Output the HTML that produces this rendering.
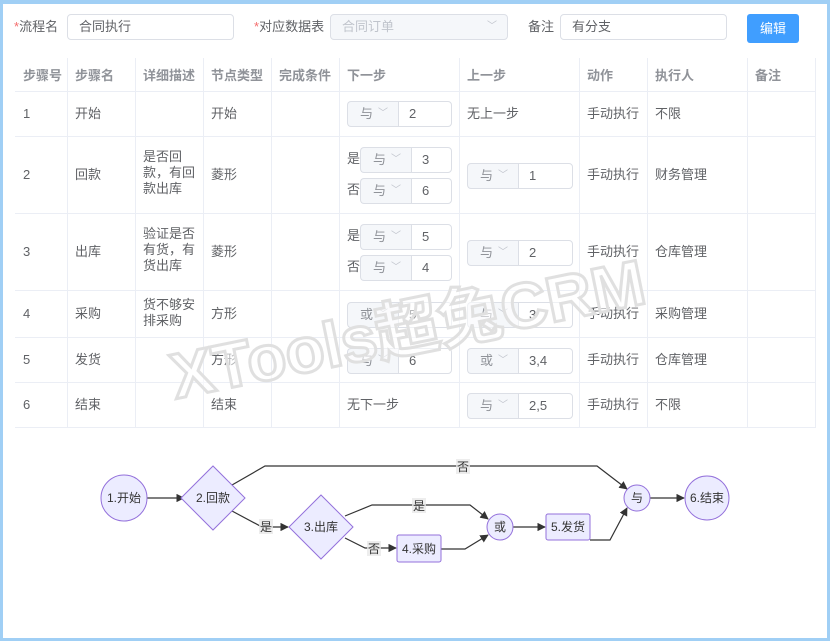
<!DOCTYPE html>
<html><head><meta charset="utf-8">
<style>
*{box-sizing:border-box;margin:0;padding:0}
body{width:830px;height:641px;overflow:hidden;background:#fff;font-family:"Liberation Sans","Noto Sans CJK SC",sans-serif;font-size:13px;color:#606266;position:relative}
.frame{position:absolute;left:0;top:0;width:830px;height:641px;border:3px solid #a0cff5;border-top-width:4px}
.a{position:absolute;white-space:nowrap;line-height:18px}
.inp{position:absolute;border:1px solid #dcdfe6;border-radius:4px;background:#fff;height:26px;line-height:24px;padding-left:11px}
.sel{position:absolute;border:1px solid #dcdfe6;border-right:none;border-radius:4px 0 0 4px;background:#f5f7fa;height:26px;line-height:24px;padding-left:12px;color:#909399}
.sel i{position:absolute;right:10px;top:0;font-style:normal;color:#c0c4cc;font-size:10px}
.num{position:absolute;border:1px solid #dcdfe6;border-radius:0 4px 4px 0;background:#fff;height:26px;line-height:24px;padding-left:10px;color:#606266}
.hl{position:absolute;left:15px;width:800px;height:1px;background:#ebeef5}
.vl{position:absolute;top:58px;height:370px;width:1px;background:#ebeef5}
.th{position:absolute;top:67px;font-weight:bold;color:#909399;line-height:18px}
.wm{position:absolute;left:165px;top:346px;font-size:64px;font-weight:bold;color:rgba(255,255,255,0.55);-webkit-text-stroke:3px #e0e0e0;transform:rotate(-11.5deg);transform-origin:left top;white-space:nowrap;line-height:64px;font-family:"Liberation Sans","Noto Sans CJK SC",sans-serif}
</style></head><body>
<div class="frame"></div>
<div class="a" style="left:14px;top:18px"><span style="color:#f56c6c">*</span>流程名</div>
<div class="inp" style="left:67px;top:14px;width:167px">合同执行</div>
<div class="a" style="left:254px;top:18px"><span style="color:#f56c6c">*</span>对应数据表</div>
<div class="inp" style="left:330px;top:14px;width:178px;background:#f5f7fa;color:#c0c4cc">合同订单<span style="position:absolute;right:10px;font-size:10px">﹀</span></div>
<div class="a" style="left:528px;top:18px">备注</div>
<div class="inp" style="left:560px;top:14px;width:167px">有分支</div>
<div class="a" style="left:747px;top:14px;width:52px;height:29px;background:#409eff;border-radius:3px;color:#fff;text-align:center;line-height:29px">编辑</div>

<div class="hl" style="top:91px"></div><div class="hl" style="top:136px"></div><div class="hl" style="top:213px"></div><div class="hl" style="top:290px"></div><div class="hl" style="top:337px"></div><div class="hl" style="top:382px"></div><div class="hl" style="top:427px"></div>
<div class="vl" style="left:67px"></div><div class="vl" style="left:135px"></div><div class="vl" style="left:203px"></div><div class="vl" style="left:271px"></div><div class="vl" style="left:339px"></div><div class="vl" style="left:459px"></div><div class="vl" style="left:579px"></div><div class="vl" style="left:647px"></div><div class="vl" style="left:747px"></div><div class="vl" style="left:815px"></div>
<div class="th" style="left:23px">步骤号</div><div class="th" style="left:75px">步骤名</div><div class="th" style="left:143px">详细描述</div><div class="th" style="left:211px">节点类型</div><div class="th" style="left:279px">完成条件</div><div class="th" style="left:347px">下一步</div><div class="th" style="left:467px">上一步</div><div class="th" style="left:587px">动作</div><div class="th" style="left:655px">执行人</div><div class="th" style="left:755px">备注</div>

<div class="a" style="left:23px;top:105px">1</div><div class="a" style="left:75px;top:105px">开始</div><div class="a" style="left:211px;top:105px">开始</div>
<div class="sel" style="left:347px;top:101px;width:51px">与<i>﹀</i></div><div class="num" style="left:398px;top:101px;width:54px">2</div>
<div class="a" style="left:467px;top:105px">无上一步</div><div class="a" style="left:587px;top:105px">手动执行</div><div class="a" style="left:655px;top:105px">不限</div>

<div class="a" style="left:23px;top:166px">2</div><div class="a" style="left:75px;top:166px">回款</div>
<div class="a" style="left:143px;top:149px;line-height:16px;white-space:normal;width:55px">是否回款，有回款出库</div>
<div class="a" style="left:211px;top:166px">菱形</div>
<div class="a" style="left:347px;top:150px">是</div><div class="sel" style="left:360px;top:147px;width:51px">与<i>﹀</i></div><div class="num" style="left:411px;top:147px;width:41px">3</div>
<div class="a" style="left:347px;top:181px">否</div><div class="sel" style="left:360px;top:178px;width:51px">与<i>﹀</i></div><div class="num" style="left:411px;top:178px;width:41px">6</div>
<div class="sel" style="left:467px;top:163px;width:51px">与<i>﹀</i></div><div class="num" style="left:518px;top:163px;width:55px">1</div>
<div class="a" style="left:587px;top:166px">手动执行</div><div class="a" style="left:655px;top:166px">财务管理</div>

<div class="a" style="left:23px;top:243px">3</div><div class="a" style="left:75px;top:243px">出库</div>
<div class="a" style="left:143px;top:226px;line-height:16px;white-space:normal;width:55px">验证是否有货，有货出库</div>
<div class="a" style="left:211px;top:243px">菱形</div>
<div class="a" style="left:347px;top:227px">是</div><div class="sel" style="left:360px;top:224px;width:51px">与<i>﹀</i></div><div class="num" style="left:411px;top:224px;width:41px">5</div>
<div class="a" style="left:347px;top:258px">否</div><div class="sel" style="left:360px;top:255px;width:51px">与<i>﹀</i></div><div class="num" style="left:411px;top:255px;width:41px">4</div>
<div class="sel" style="left:467px;top:240px;width:51px">与<i>﹀</i></div><div class="num" style="left:518px;top:240px;width:55px">2</div>
<div class="a" style="left:587px;top:243px">手动执行</div><div class="a" style="left:655px;top:243px">仓库管理</div>

<div class="a" style="left:23px;top:305px">4</div><div class="a" style="left:75px;top:305px">采购</div>
<div class="a" style="left:143px;top:297px;line-height:16px;white-space:normal;width:55px">货不够安排采购</div>
<div class="a" style="left:211px;top:305px">方形</div>
<div class="sel" style="left:347px;top:302px;width:51px">或<i>﹀</i></div><div class="num" style="left:398px;top:302px;width:54px">5</div>
<div class="sel" style="left:467px;top:302px;width:51px">与<i>﹀</i></div><div class="num" style="left:518px;top:302px;width:55px">3</div>
<div class="a" style="left:587px;top:305px">手动执行</div><div class="a" style="left:655px;top:305px">采购管理</div>

<div class="a" style="left:23px;top:351px">5</div><div class="a" style="left:75px;top:351px">发货</div><div class="a" style="left:211px;top:351px">方形</div>
<div class="sel" style="left:347px;top:348px;width:51px">与<i>﹀</i></div><div class="num" style="left:398px;top:348px;width:54px">6</div>
<div class="sel" style="left:467px;top:348px;width:51px">或<i>﹀</i></div><div class="num" style="left:518px;top:348px;width:55px">3,4</div>
<div class="a" style="left:587px;top:351px">手动执行</div><div class="a" style="left:655px;top:351px">仓库管理</div>

<div class="a" style="left:23px;top:396px">6</div><div class="a" style="left:75px;top:396px">结束</div><div class="a" style="left:211px;top:396px">结束</div>
<div class="a" style="left:347px;top:396px">无下一步</div>
<div class="sel" style="left:467px;top:393px;width:51px">与<i>﹀</i></div><div class="num" style="left:518px;top:393px;width:55px">2,5</div>
<div class="a" style="left:587px;top:396px">手动执行</div><div class="a" style="left:655px;top:396px">不限</div>

<div class="wm">XTools超兔CRM</div>

<svg style="position:absolute;left:0;top:0" width="830" height="641" font-family="Liberation Sans,Noto Sans CJK SC,sans-serif" font-size="12">
<defs><marker id="ar" viewBox="0 0 10 10" refX="9" refY="5" markerWidth="7" markerHeight="7" orient="auto"><path d="M0,0L10,5L0,10z" fill="#333"/></marker></defs>
<g stroke="#333" stroke-width="1.2" fill="none">
<path d="M147,498H184" marker-end="url(#ar)"/>
<path d="M232,485L265,466H597L627,489" marker-end="url(#ar)"/>
<path d="M232,511L262,527H288" marker-end="url(#ar)"/>
<path d="M345,516L372,505H470L488,519" marker-end="url(#ar)"/>
<path d="M345,538L365,548H396" marker-end="url(#ar)"/>
<path d="M441,549H465L488,535" marker-end="url(#ar)"/>
<path d="M513,527H545" marker-end="url(#ar)"/>
<path d="M590,540H610L627,508" marker-end="url(#ar)"/>
<path d="M650,498H684" marker-end="url(#ar)"/>
</g>
<g fill="#ececff" stroke="#9370db" stroke-width="1">
<circle cx="124" cy="498" r="23"/>
<path d="M213,466L245,498L213,530L181,498z"/>
<path d="M321,495L353,527L321,559L289,527z"/>
<rect x="397" y="535" width="44" height="27" rx="2"/>
<circle cx="500" cy="527" r="13"/>
<rect x="546" y="514" width="44" height="26" rx="2"/>
<circle cx="637" cy="498" r="13"/>
<circle cx="707" cy="498" r="22"/>
</g>
<g fill="#333" text-anchor="middle">
<text x="124" y="502">1.开始</text><text x="213" y="502">2.回款</text><text x="321" y="531">3.出库</text>
<text x="419" y="553">4.采购</text><text x="500" y="531">或</text><text x="568" y="531">5.发货</text>
<text x="637" y="502">与</text><text x="707" y="502">6.结束</text>
</g>
<g text-anchor="middle" fill="#333">
<rect x="456" y="459" width="14" height="15" fill="#e8e8e8" opacity="0.8"/><text x="463" y="471">否</text>
<rect x="259" y="519" width="14" height="15" fill="#e8e8e8" opacity="0.8"/><text x="266" y="531">是</text>
<rect x="412" y="498" width="14" height="15" fill="#e8e8e8" opacity="0.8"/><text x="419" y="510">是</text>
<rect x="367" y="541" width="14" height="15" fill="#e8e8e8" opacity="0.8"/><text x="374" y="553">否</text>
</g>
</svg>
</body></html>
